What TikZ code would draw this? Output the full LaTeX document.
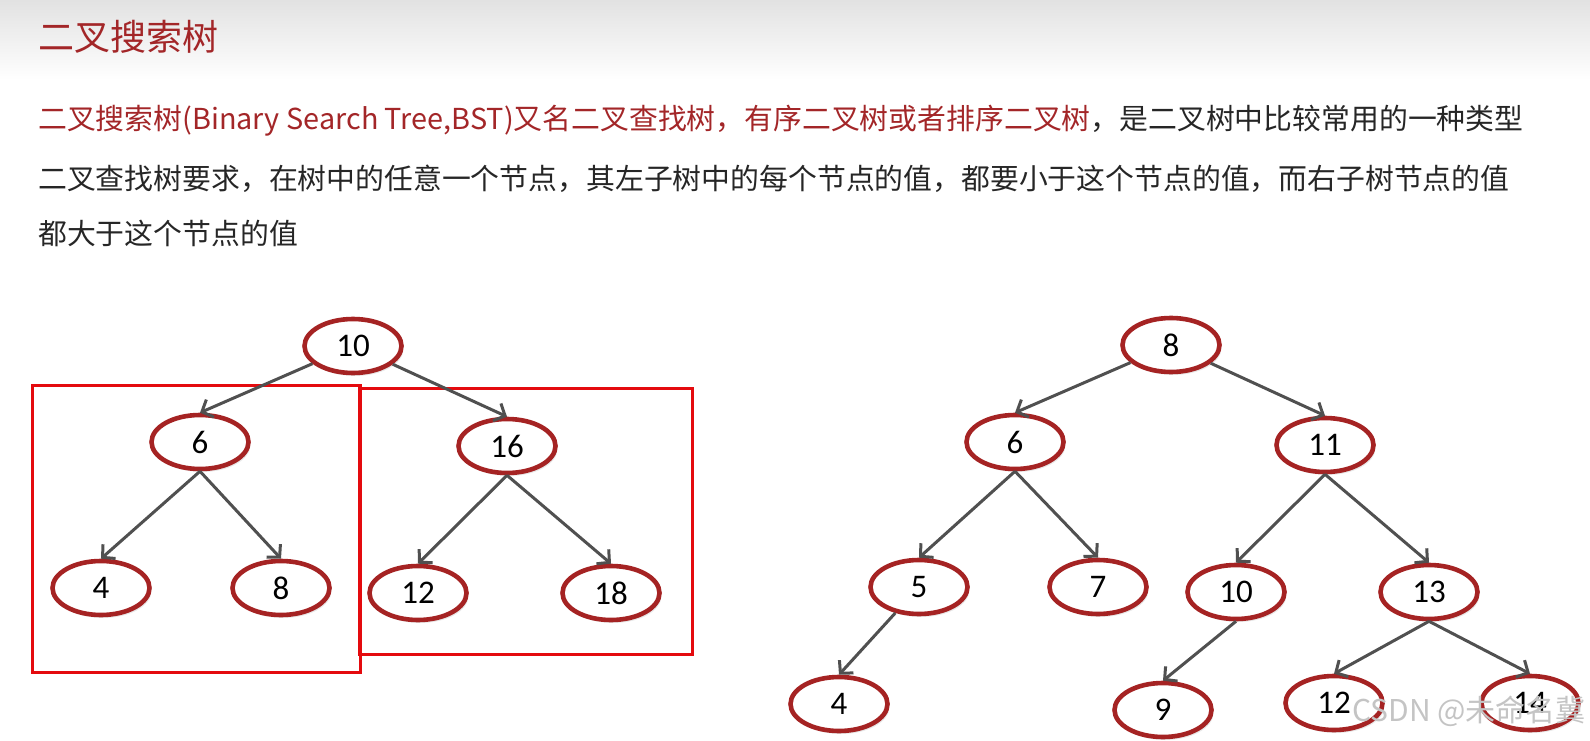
\documentclass[tikz,border=0pt]{standalone}
\usepackage{fontspec}
\setmainfont{Noto Sans CJK SC}
\newfontfamily\numfont{Carlito}
\usetikzlibrary{arrows.meta,shapes.geometric,shadows}

\definecolor{titlered}{RGB}{163,38,40}
\definecolor{bodytext}{RGB}{38,38,38}
\definecolor{ringred}{RGB}{165,35,35}
\definecolor{boxred}{RGB}{228,10,14}
\definecolor{edgegray}{RGB}{80,80,80}
\definecolor{headgray}{RGB}{226,226,226}
\definecolor{markgray}{RGB}{196,196,196}

\begin{document}
\begin{tikzpicture}[x=1pt, y=-1pt,
  bstnode/.style={ellipse, draw=ringred, line width=4.6pt, fill=white,
    minimum width=97pt, minimum height=54pt, inner sep=0pt,
    font=\numfont\fontsize{33}{33}\selectfont,
    drop shadow={opacity=0.18, shadow xshift=2pt, shadow yshift=-3pt}},
  treearrow/.style={-{Straight Barb[length=9pt,width=19pt]}, line width=3pt, draw=edgegray},
  subtreebox/.style={draw=boxred, line width=3pt},
  textline/.style={anchor=west, inner sep=0pt, font=\fontsize{28.85}{28.85}\selectfont}]
\useasboundingbox (0,0) rectangle (1590,741);
\fill[top color=headgray, bottom color=white] (0,0) rectangle (1590,80);

% heading and text
\node[anchor=west, inner sep=0pt, text=titlered, font=\fontsize{36}{36}\selectfont] (title) at (38,37) {二叉搜索树};
\node[textline] (line1) at (38,121) {\textcolor{titlered}{二叉搜索树(Binary Search Tree,BST)又名二叉查找树，有序二叉树或者排序二叉树}\textcolor{bodytext}{，是二叉树中比较常用的一种类型}};
\node[textline, text=bodytext] (line2) at (38,179) {二叉查找树要求，在树中的任意一个节点，其左子树中的每个节点的值，都要小于这个节点的值，而右子树节点的值};
\node[textline, text=bodytext] (line3) at (38,233) {都大于这个节点的值};

% left tree with its two subtrees boxed
\draw[subtreebox] (32,385) rectangle (360,672);
\draw[subtreebox] (359,388) rectangle (692,654);
\node[bstnode] (l10) at (353,346) {10};
\node[bstnode] (l6) at (200,442) {6};
\node[bstnode] (l16) at (507,446) {16};
\node[bstnode] (l4) at (101,588) {4};
\node[bstnode] (l8) at (281,588) {8};
\node[bstnode] (l12) at (418,593) {12};
\node[bstnode] (l18) at (611,593) {18};
\draw[treearrow] (l10) -- (l6.north);
\draw[treearrow] (l10) -- (l16.north);
\draw[treearrow] (l6.south) -- (l4.north);
\draw[treearrow] (l6.south) -- (l8.north);
\draw[treearrow] (l16.south) -- (l12.north);
\draw[treearrow] (l16.south) -- (l18.north);

% right tree
\node[bstnode] (r8) at (1171,345) {8};
\node[bstnode] (r6) at (1015,442) {6};
\node[bstnode] (r11) at (1325,445) {11};
\node[bstnode] (r5) at (919,587) {5};
\node[bstnode] (r7) at (1098,587) {7};
\node[bstnode] (r10) at (1236,592) {10};
\node[bstnode] (r13) at (1429,592) {13};
\node[bstnode] (r4) at (839,704) {4};
\node[bstnode] (r9) at (1163,710) {9};
\node[bstnode] (r12) at (1334,703) {12};
\node[bstnode] (r14) at (1530,703) {14};
\draw[treearrow] (r8) -- (r6.north);
\draw[treearrow] (r8) -- (r11.north);
\draw[treearrow] (r6.south) -- (r5.north);
\draw[treearrow] (r6.south) -- (r7.north);
\draw[treearrow] (r11.south) -- (r10.north);
\draw[treearrow] (r11.south) -- (r13.north);
\draw[treearrow] (r5) -- (r4.north);
\draw[treearrow] (r10.south) -- (r9.north);
\draw[treearrow] (r13.south) -- (r12.north);
\draw[treearrow] (r13.south) -- (r14.north);

\node[anchor=west, inner sep=0pt, text=markgray, font=\fontsize{30}{30}\selectfont] (mark) at (1352,711) {CSDN @未命名冀};
\end{tikzpicture}
\end{document}
